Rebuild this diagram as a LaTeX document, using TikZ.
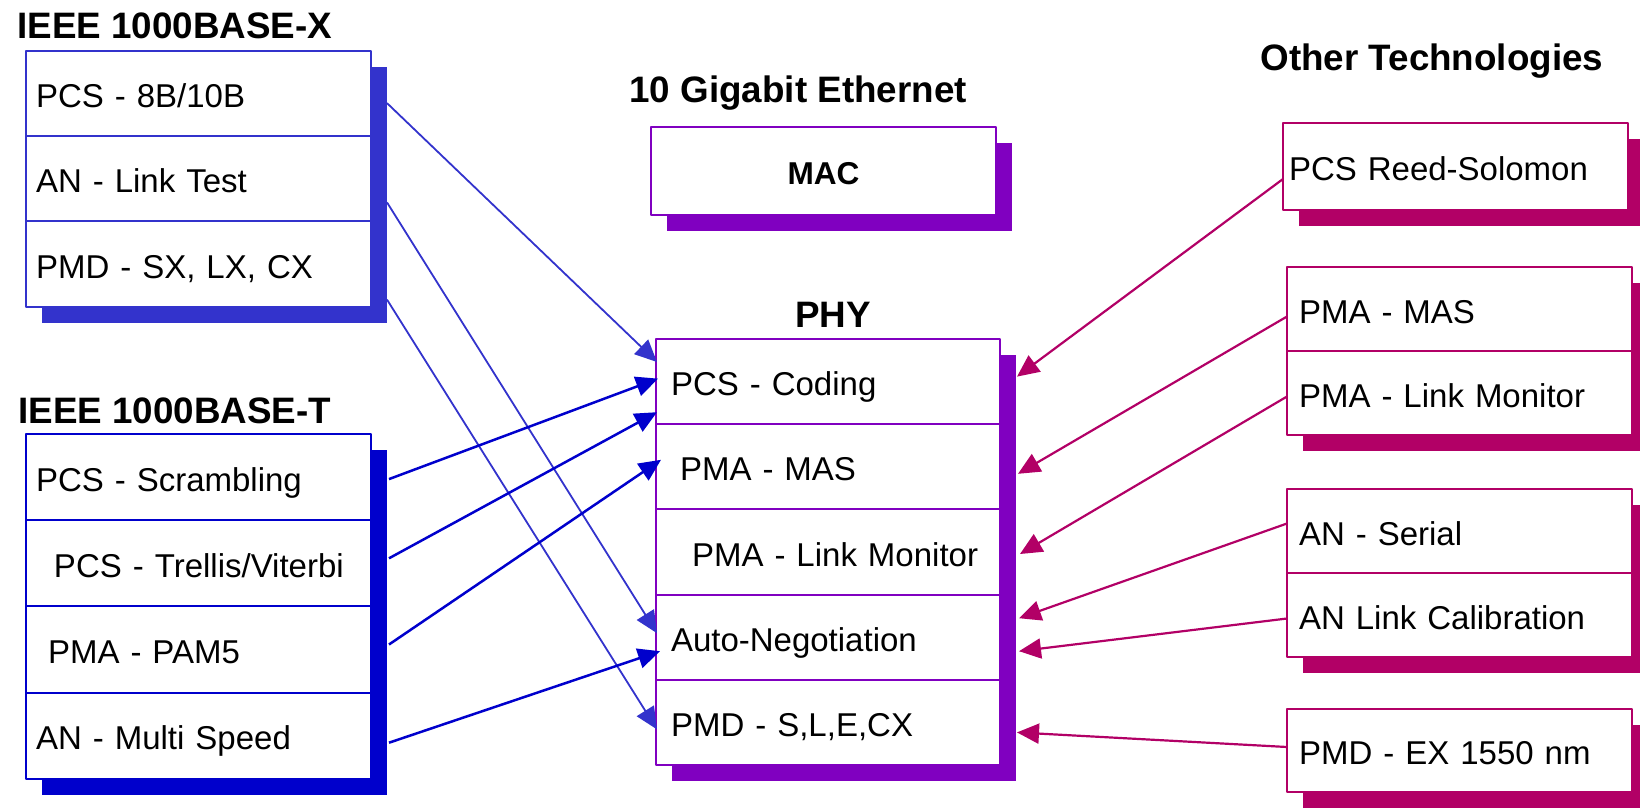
\documentclass[tikz,border=0pt]{standalone}
\usepackage{fontspec}
\setmainfont{Liberation Sans}
\usetikzlibrary{positioning,arrows.meta,backgrounds}
\definecolor{xblue}{RGB}{51,51,204}
\definecolor{tblue}{RGB}{0,0,204}
\definecolor{gpurple}{RGB}{128,0,192}
\definecolor{omagenta}{RGB}{178,0,102}
\tikzset{
  row/.style={fill=white, line width=1pt, outer sep=0pt, inner ysep=0pt,
    minimum height=42.6pt, text height=14pt, text depth=0pt, align=left,
    font=\fontsize{16.5}{19}\selectfont},
  xrow/.style={row, draw=xblue, inner xsep=5pt, text width=162.5pt},
  trow/.style={xrow, draw=tblue, minimum height=43.1pt},
  prow/.style={row, draw=gpurple, inner xsep=7.5pt, text width=157pt},
  orow/.style={row, draw=omagenta, inner xsep=6pt, text width=160.5pt},
  macbox/.style={draw=gpurple, fill=white, line width=1pt, outer sep=0pt,
    minimum width=172.5pt, minimum height=44pt, text height=13pt, text depth=0pt,
    font=\bfseries\fontsize{15.8}{18}\selectfont},
  headline/.style={inner sep=0pt, font=\bfseries\fontsize{18.4}{22}\selectfont},
  xarrow/.style={draw=xblue, line width=0.9pt, -{Triangle[length=11pt,width=10pt]}},
  tarrow/.style={draw=tblue, line width=1.25pt, -{Triangle[length=11pt,width=10pt]}},
  oarrow/.style={draw=omagenta, line width=1.1pt, -{Triangle[length=11pt,width=10pt]}}
}
\begin{document}
\begin{tikzpicture}[x=0.5pt, y=-0.5pt, line join=round]
  \useasboundingbox (0,0) rectangle (1640,810);
  % titles
  \node[headline, anchor=base west] (xtitle) at (17,38) {IEEE 1000BASE-X};
  \node[headline, anchor=base west] (ttitle) at (18,423) {IEEE 1000BASE-T};
  \node[headline, anchor=base west] (gtitle) at (629,102) {10 Gigabit Ethernet};
  \node[headline, anchor=base] (phytitle) at (833,327) {PHY};
  \node[headline, anchor=base west] (ottitle) at (1260,70) {Other Technologies};
  % 1000BASE-X
  \node[xrow, anchor=north west] (x1) at (26,51) {PCS - 8B/10B};
  \node[xrow, below=0pt of x1] (x2) {AN - Link Test};
  \node[xrow, below=0pt of x2] (x3) {PMD - SX, LX, CX};
  % 1000BASE-T
  \node[trow, anchor=north west] (t1) at (26,434) {PCS - Scrambling};
  \node[trow, below=0pt of t1] (t2) {\hspace*{9pt}PCS - Trellis/Viterbi};
  \node[trow, below=0pt of t2] (t3) {\hspace*{6pt}PMA - PAM5};
  \node[trow, below=0pt of t3] (t4) {AN - Multi Speed};
  % 10 Gigabit Ethernet
  \node[macbox] (mac) at (823.5,171) {MAC};
  \node[prow, anchor=north west] (p1) at (656,339) {PCS - Coding};
  \node[prow, below=0pt of p1] (p2) {\hspace*{4.5pt}PMA - MAS};
  \node[prow, below=0pt of p2] (p3) {\hspace*{10.5pt}PMA - Link Monitor};
  \node[prow, below=0pt of p3] (p4) {Auto-Negotiation};
  \node[prow, below=0pt of p4] (p5) {PMD - S,L,E,CX};
  % other technologies
  \node[orow, anchor=north west, inner xsep=3pt, text width=166.5pt,
    minimum height=43.5pt] (rs) at (1283,123) {PCS Reed-Solomon};
  \node[orow, anchor=north west, minimum height=42pt] (ma) at (1287,267) {PMA - MAS};
  \node[orow, below=0pt of ma, minimum height=42pt] (ml) {PMA - Link Monitor};
  \node[orow, anchor=north west, minimum height=42pt] (as) at (1287,489) {AN - Serial};
  \node[orow, below=0pt of as, minimum height=42pt] (ac) {AN Link Calibration};
  \node[orow, anchor=north west, minimum height=41.5pt] (pe) at (1287,709) {PMD - EX 1550 nm};
  % shadows
  \begin{pgfonlayer}{background}
    \foreach \a/\b/\c in {x1/x3/xblue, t1/t4/tblue, mac/mac/gpurple, p1/p5/gpurple,
        rs/rs/omagenta, ma/ml/omagenta, as/ac/omagenta, pe/pe/omagenta}
      \fill[\c] ([shift={(16,16)}]\a.north west) rectangle ([shift={(16,16)}]\b.south east);
  \end{pgfonlayer}
  % arrows
  \draw[xarrow] ([shift={(16,9.5)}]x1.east) -- ([shift={(1,23)}]p1.north west);
  \draw[xarrow] ([shift={(16,-19)}]x2.south east) -- ([shift={(1,-4)}]p4.west);
  \draw[xarrow] ([shift={(16,-7)}]x3.south east) -- ([shift={(1,7)}]p5.west);
  \draw[tarrow] ([shift={(18,2)}]t1.east) -- ([shift={(2,-3)}]p1.west);
  \draw[tarrow] ([shift={(18,-5)}]t2.east) -- ([shift={(1,-12)}]p1.south west);
  \draw[tarrow] ([shift={(18,-5)}]t3.east) -- ([shift={(5,-7)}]p2.west);
  \draw[tarrow] ([shift={(18,7)}]t4.east) -- ([shift={(4,14)}]p4.west);
  \draw[oarrow] ([shift={(0,12.5)}]rs.west) -- ([shift={(17,-5)}]p1.east);
  \draw[oarrow] ([shift={(0,7.5)}]ma.west) -- ([shift={(18,7)}]p2.east);
  \draw[oarrow] ([shift={(0,3.5)}]ml.west) -- ([shift={(20,2)}]p3.east);
  \draw[oarrow] ([shift={(0,-7.5)}]as.west) -- ([shift={(19,-19)}]p4.east);
  \draw[oarrow] ([shift={(0,3.5)}]ac.west) -- ([shift={(19,14)}]p4.east);
  \draw[oarrow] ([shift={(0,-3.5)}]pe.west) -- ([shift={(17,10)}]p5.east);
\end{tikzpicture}
\end{document}
